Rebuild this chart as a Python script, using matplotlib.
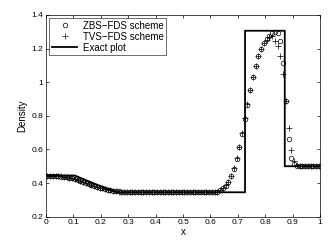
import numpy as np
import matplotlib
matplotlib.use('Agg')
import matplotlib.pyplot as plt

plt.rcParams['font.family'] = ['Liberation Sans', 'DejaVu Sans']

# cell centres
x = [0.005, 0.015, 0.025, 0.035, 0.045, 0.055, 0.065, 0.075, 0.085, 0.095,
     0.105, 0.115, 0.125, 0.135, 0.145, 0.155, 0.165, 0.175, 0.185, 0.195,
     0.205, 0.215, 0.225, 0.235, 0.245, 0.255, 0.265, 0.275, 0.285, 0.295,
     0.305, 0.315, 0.325, 0.335, 0.345, 0.355, 0.365, 0.375, 0.385, 0.395,
     0.405, 0.415, 0.425, 0.435, 0.445, 0.455, 0.465, 0.475, 0.485, 0.495,
     0.505, 0.515, 0.525, 0.535, 0.545, 0.555, 0.565, 0.575, 0.585, 0.595,
     0.605, 0.615, 0.625, 0.635, 0.645, 0.655, 0.665, 0.675, 0.685, 0.695,
     0.705, 0.715, 0.725, 0.735, 0.745, 0.755, 0.765, 0.775, 0.785, 0.795,
     0.805, 0.815, 0.825, 0.835, 0.845, 0.855, 0.865, 0.875, 0.885, 0.895,
     0.905, 0.915, 0.925, 0.935, 0.945, 0.955, 0.965, 0.975, 0.985, 0.995]

rho_zbs = [0.442, 0.442, 0.441, 0.440, 0.439, 0.438, 0.436, 0.434, 0.431, 0.428,
           0.424, 0.419, 0.413, 0.407, 0.401, 0.395, 0.389, 0.383, 0.378, 0.373,
           0.368, 0.364, 0.360, 0.357, 0.354, 0.352, 0.350, 0.348, 0.347, 0.346,
           0.345, 0.345, 0.345, 0.345, 0.345, 0.345, 0.345, 0.345, 0.345, 0.345,
           0.345, 0.345, 0.345, 0.345, 0.345, 0.345, 0.345, 0.345, 0.345, 0.345,
           0.345, 0.345, 0.345, 0.345, 0.345, 0.345, 0.345, 0.345, 0.345, 0.345,
           0.345, 0.346, 0.349, 0.356, 0.368, 0.384, 0.406, 0.439, 0.485, 0.545,
           0.614, 0.693, 0.781, 0.866, 0.951, 1.028, 1.098, 1.153, 1.197, 1.233,
           1.257, 1.277, 1.293, 1.299, 1.293, 1.243, 1.114, 0.890, 0.664, 0.549,
           0.515, 0.503, 0.500, 0.500, 0.500, 0.500, 0.500, 0.500, 0.500, 0.500]

rho_tvs = [0.444, 0.443, 0.442, 0.441, 0.440, 0.439, 0.437, 0.435, 0.432, 0.429,
           0.425, 0.420, 0.414, 0.408, 0.402, 0.396, 0.390, 0.384, 0.378, 0.373,
           0.368, 0.363, 0.359, 0.356, 0.353, 0.351, 0.349, 0.347, 0.346, 0.346,
           0.345, 0.345, 0.345, 0.345, 0.345, 0.345, 0.345, 0.345, 0.345, 0.345,
           0.345, 0.345, 0.345, 0.345, 0.345, 0.345, 0.345, 0.345, 0.345, 0.345,
           0.345, 0.345, 0.345, 0.345, 0.345, 0.345, 0.345, 0.345, 0.345, 0.345,
           0.345, 0.346, 0.349, 0.357, 0.369, 0.386, 0.408, 0.441, 0.487, 0.547,
           0.616, 0.696, 0.784, 0.869, 0.953, 1.030, 1.099, 1.154, 1.197, 1.231,
           1.252, 1.268, 1.272, 1.245, 1.217, 1.158, 1.051, 0.890, 0.727, 0.594,
           0.530, 0.508, 0.502, 0.500, 0.500, 0.500, 0.500, 0.500, 0.500, 0.500]

x_exact = [0.0, 0.105, 0.15, 0.2, 0.26, 0.726, 0.726, 0.871, 0.871, 1.0]
rho_exact = [0.445, 0.445, 0.414, 0.381, 0.345, 0.345, 1.306, 1.306, 0.5, 0.5]

fig = plt.figure(figsize=(3.29, 2.41), dpi=100)
ax = fig.add_axes([0.14, 0.101, 0.833, 0.837])

ax.plot(x, rho_zbs, 'o', mfc='none', mec='k', ms=3.3, mew=0.5, label='ZBS\u2212FDS scheme')
ax.plot(x, rho_tvs, '+', color='k', ms=4, mew=0.5, label='TVS\u2212FDS scheme')
ax.plot(x_exact, rho_exact, 'k-', lw=1.3, label='Exact plot')

ax.set_xlim(0, 1)
ax.set_ylim(0.2, 1.4)
ax.set_xticks(np.arange(0, 1.01, 0.1))
ax.set_xticklabels(['0', '0.1', '0.2', '0.3', '0.4', '0.5', '0.6', '0.7', '0.8', '0.9', '1'])
ax.set_yticks(np.arange(0.2, 1.41, 0.2))
ax.set_yticklabels(['0.2', '0.4', '0.6', '0.8', '1', '1.2', '1.4'])
ax.tick_params(direction='in', top=True, right=True, labelsize=6, length=2.5, width=0.5, pad=2)
for s in ax.spines.values():
    s.set_linewidth(0.5)

ax.set_xlabel('x', fontsize=7, labelpad=0.5)
ax.set_ylabel('Density', fontsize=7, labelpad=3)

leg = ax.legend(loc='upper left', fontsize=7, frameon=True, fancybox=False,
                edgecolor='k', borderaxespad=0.35, handlelength=2.6,
                labelspacing=0.1, borderpad=0.25, handletextpad=0.6)
leg.get_frame().set_linewidth(0.5)

fig.savefig('out.png', dpi=100)
